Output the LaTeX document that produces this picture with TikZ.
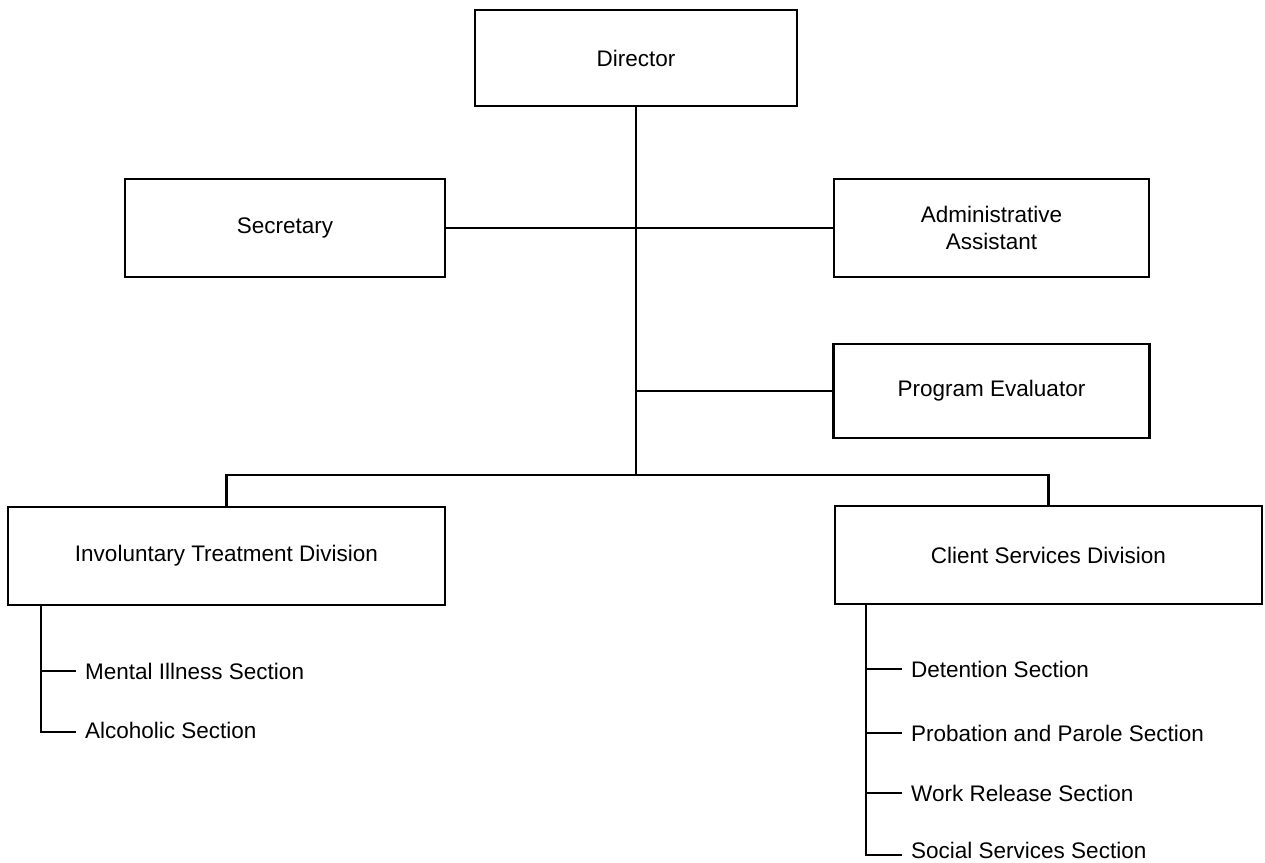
\documentclass[tikz,border=0pt]{standalone}
\usepackage{fontspec}
\setmainfont{Liberation Sans}
\usetikzlibrary{positioning}
\tikzset{box/.style={draw, minimum width=318pt, minimum height=98pt, inner sep=0pt, align=center},
         section/.style={anchor=west, inner xsep=8pt}}

\begin{document}
\begin{tikzpicture}[x=1pt, y=1pt, line width=2.4pt, on grid, font=\fontsize{22.5}{27}\selectfont]
    \useasboundingbox (0,0) rectangle (1265,-862);
    \node (director) [box, minimum width=322pt, minimum height=96pt] at (636,-58) {Director};
    \node (secretary) [box, minimum width=320pt, below left =170pt and 351pt of director] {Secretary};
    \node (admin) [box, minimum width=315pt, below right =170pt and 355.5pt of director] {Administrative\\Assistant};
    \node (evaluator) [box, minimum width=316pt, minimum height=94pt, below =163pt of admin] {Program Evaluator};
    \node (involuntary) [box, minimum width=437pt, below left =498pt and 409.5pt of director] {Involuntary Treatment Division};
    \node (client) [box, minimum width=427pt, below right =497pt and 412.5pt of director] {Client Services Division};
    \coordinate (trunk) at (636,-475);

    % sections of the two divisions
    \coordinate (itdfoot) at (41,-732);
    \node (mental) [section] at (76,-671) {Mental Illness Section};
    \node (alcoholic) [section] at (76,-730) {Alcoholic Section};
    \coordinate (csdfoot) at (866,-855);
    \node (detention) [section] at (902,-669) {Detention Section};
    \node (probation) [section] at (902,-733) {Probation and Parole Section};
    \node (release) [section] at (902,-793) {Work Release Section};
    \node (social) [section] at (902,-850) {Social Services Section};

    \draw (director.south) -- (trunk);
    \draw (secretary.east) -- (admin.west);
    \draw (evaluator.west) -- (evaluator.west -| trunk);
    \draw (involuntary.north) |- (trunk) -| (client.north);

    \draw (involuntary.south -| itdfoot) -- (itdfoot) -- (itdfoot -| alcoholic.west);
    \draw (mental.west -| itdfoot) -- (mental.west);
    \draw (client.south -| csdfoot) -- (csdfoot) -- (csdfoot -| social.west);
    \draw (detention.west -| csdfoot) -- (detention.west)
          (probation.west -| csdfoot) -- (probation.west)
          (release.west -| csdfoot) -- (release.west);
\end{tikzpicture}
\end{document}
